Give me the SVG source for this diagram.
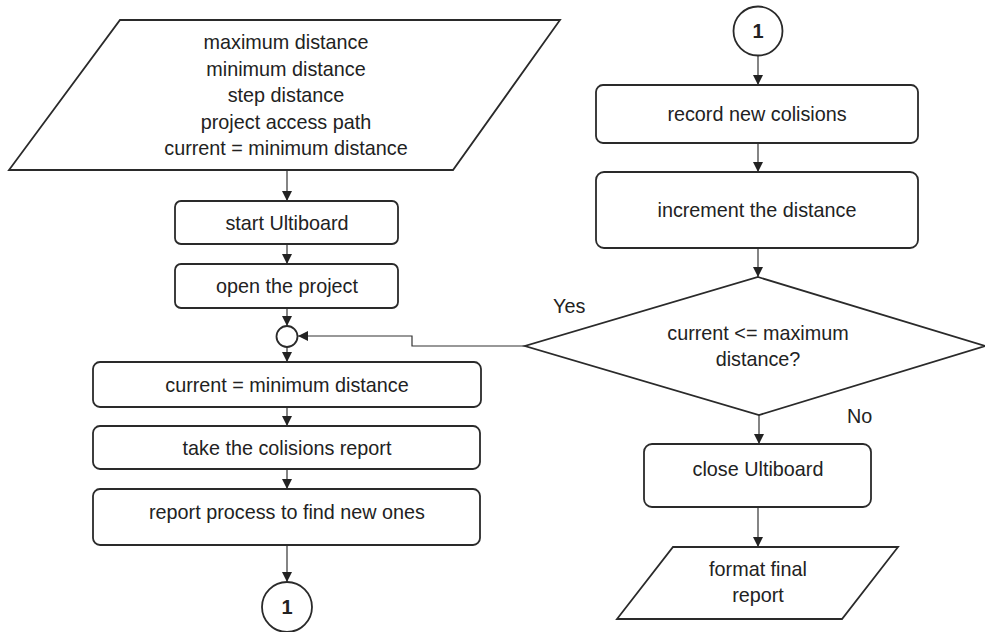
<svg xmlns="http://www.w3.org/2000/svg" width="985" height="632" viewBox="0 0 985 632">
<defs>
<marker id="ah" markerUnits="userSpaceOnUse" markerWidth="12" markerHeight="12" viewBox="0 0 12 12" refX="11" refY="6" orient="auto">
<path d="M1,1 L11,6 L1,11 Z" fill="#222"/>
</marker>
<style>
.s{fill:#fff;stroke:#2a2a2a;stroke-width:1.8}
.t{font-family:"Liberation Sans",Arial,sans-serif;font-size:19.8px;fill:#222;text-anchor:middle}
.l{font-family:"Liberation Sans",Arial,sans-serif;font-size:19.8px;fill:#222}
.n{font-family:"Liberation Sans",Arial,sans-serif;font-size:20px;font-weight:bold;fill:#222;text-anchor:middle}
.c{fill:none;stroke:#333;stroke-width:1.2;marker-end:url(#ah)}
</style>
</defs>
<rect width="985" height="632" fill="#fff"/>
<g id="connectors">
<path class="c" d="M287,170 L287,201"/>
<path class="c" d="M287,244 L287,264"/>
<path class="c" d="M287,308 L287,326"/>
<path class="c" d="M287,347 L287,362"/>
<path class="c" d="M287,407 L287,426"/>
<path class="c" d="M287,469 L287,489"/>
<path class="c" d="M287,545 L287,582"/>
<path class="c" d="M758,55 L758,85"/>
<path class="c" d="M758,143 L758,172"/>
<path class="c" d="M758,248 L758,277"/>
<path class="c" d="M759,415 L759,444"/>
<path class="c" d="M758,507 L758,547"/>
<path class="c" d="M525,346 L412,346 L412,336 L298,336"/>
</g>
<g id="input">
<polygon class="s" points="120,20 560,20 453,170 9,170"/>
<text class="t" x="286" y="49">maximum distance</text>
<text class="t" x="286" y="76">minimum distance</text>
<text class="t" x="286" y="102">step distance</text>
<text class="t" x="286" y="129">project access path</text>
<text class="t" x="286" y="155">current = minimum distance</text>
</g>
<g id="start">
<rect class="s" x="175" y="201" width="223" height="43" rx="6"/>
<text class="t" x="287" y="230">start Ultiboard</text>
</g>
<g id="open">
<rect class="s" x="175" y="264" width="223" height="44" rx="6"/>
<text class="t" x="287" y="293">open the project</text>
</g>
<g id="junction">
<circle class="s" cx="287" cy="336.5" r="10.5"/>
</g>
<g id="reset">
<rect class="s" x="93" y="362" width="388" height="45" rx="7"/>
<text class="t" x="287" y="392">current = minimum distance</text>
</g>
<g id="take">
<rect class="s" x="93" y="426" width="387" height="43" rx="7"/>
<text class="t" x="287" y="455">take the colisions report</text>
</g>
<g id="process">
<rect class="s" x="93" y="489" width="387" height="56" rx="7"/>
<text class="t" x="287" y="519">report process to find new ones</text>
</g>
<g id="conn-out">
<circle class="s" cx="287" cy="607" r="25"/>
<text class="n" x="287" y="614">1</text>
</g>
<g id="conn-in">
<circle class="s" cx="758" cy="31" r="24.5"/>
<text class="n" x="758" y="38">1</text>
</g>
<g id="record">
<rect class="s" x="596" y="85" width="322" height="58" rx="7"/>
<text class="t" x="757" y="121">record new colisions</text>
</g>
<g id="increment">
<rect class="s" x="596" y="172" width="322" height="76" rx="8"/>
<text class="t" x="757" y="217">increment the distance</text>
</g>
<g id="decision">
<polygon class="s" points="758,277 985,346 759,415 525,346"/>
<text class="t" x="758" y="340">current &lt;= maximum</text>
<text class="t" x="758" y="366">distance?</text>
<text class="l" x="553" y="313">Yes</text>
<text class="l" x="847" y="423">No</text>
</g>
<g id="close">
<rect class="s" x="644" y="444" width="227" height="63" rx="8"/>
<text class="t" x="758" y="476">close Ultiboard</text>
</g>
<g id="output">
<polygon class="s" points="673,547 898,547 842,619 617,619"/>
<text class="t" x="758" y="576">format final</text>
<text class="t" x="758" y="602">report</text>
</g>
</svg>
